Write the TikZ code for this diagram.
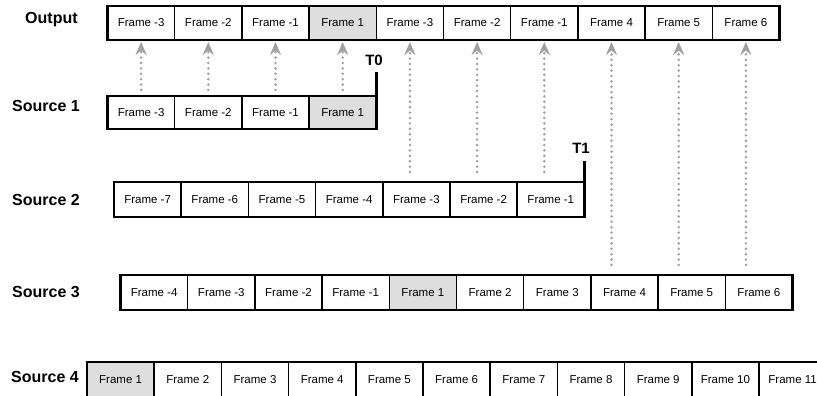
\documentclass[tikz,border=0pt]{standalone}
\usepackage{fontspec}
\setmainfont{Liberation Sans}
\usetikzlibrary{arrows.meta}
\definecolor{arrgray}{RGB}{160,160,160}
\definecolor{cellgray}{RGB}{222,222,222}
\begin{document}
\begin{tikzpicture}[x=1pt,y=-1pt,
  cell/.style={draw=black, line width=1.5pt, minimum width=67.2pt, minimum height=34pt,
    inner sep=0pt, outer sep=0pt, anchor=north west, font=\fontsize{11.5}{13}\selectfont},
  rowlabel/.style={anchor=west, inner sep=0pt, font=\bfseries\fontsize{16}{18}\selectfont},
  rowframe/.style={draw=black, line width=2.6pt},
  feed/.style={draw=arrgray, line width=2.8pt, dash pattern=on 0pt off 5.4pt, line cap=round,
    -{Stealth[length=13pt,width=11pt,inset=4.5pt]}},
  marker/.style={draw=black, line width=2.4pt},
  tlabel/.style={inner sep=0pt, font=\bfseries\fontsize{15}{17}\selectfont}
]
\useasboundingbox (0,0) rectangle (817,396);
\clip (0,0) rectangle (817,396);
\fill[white] (0,0) rectangle (817,396);

% row labels
\node[rowlabel] (lout) at (25,19.5) {Output};
\node[rowlabel] (ls1) at (12,106) {Source 1};
\node[rowlabel] (ls2) at (12,199.5) {Source 2};
\node[rowlabel] (ls3) at (12,292.5) {Source 3};
\node[rowlabel] (ls4) at (11,376.5) {Source 4};

% Output row
\foreach \t/\f [count=\k] in {-3/white,-2/white,-1/white,1/cellgray,-3/white,-2/white,-1/white,4/white,5/white,6/white}
  \node[cell, fill=\f] (o\k) at ({107.5+(\k-1)*67.2},6) {Frame \t};
\draw[rowframe] (o1.north west) rectangle (o10.south east);

% Source 1
\foreach \t/\f [count=\k] in {-3/white,-2/white,-1/white,1/cellgray}
  \node[cell, fill=\f, minimum height=33pt] (sa\k) at ({107.5+(\k-1)*67.2},96) {Frame \t};
\draw[rowframe] (sa1.north west) rectangle (sa4.south east);

% Source 2
\foreach \t [count=\k] in {-7,-6,-5,-4,-3,-2,-1}
  \node[cell, fill=white, minimum height=35pt] (sb\k) at ({114+(\k-1)*67.2},182) {Frame \t};
\draw[rowframe] (sb1.north west) rectangle (sb7.south east);

% Source 3
\foreach \t/\f [count=\k] in {-4/white,-3/white,-2/white,-1/white,1/cellgray,2/white,3/white,4/white,5/white,6/white}
  \node[cell, fill=\f, minimum height=35pt] (sc\k) at ({120.5+(\k-1)*67.2},275) {Frame \t};
\draw[rowframe] (sc1.north west) rectangle (sc10.south east);

% Source 4
\foreach \t/\f [count=\k] in {1/cellgray,2/white,3/white,4/white,5/white,6/white,7/white,8/white,9/white,10/white,11/white}
  \node[cell, fill=\f, minimum height=35pt] (sd\k) at ({87+(\k-1)*67.2},362) {Frame \t};
\draw[rowframe] (sd1.north west) rectangle (sd11.south east);

% feeds Source 1 -> Output
\foreach \k in {1,2,3,4}
  \draw[feed, shorten <=6pt, shorten >=2pt] (sa\k.north -| o\k.south) -- (o\k.south);
% feeds Source 2 -> Output
\foreach \k in {5,6,7}
  \draw[feed, shorten <=10pt, shorten >=2pt] (sb\k.north -| o\k.south) -- (o\k.south);
% feeds Source 3 -> Output
\foreach \k in {8,9,10}
  \draw[feed, shorten <=10pt, shorten >=2pt] (sc\k.north -| o\k.south) -- (o\k.south);

% switch markers
\coordinate (t0) at ([yshift=24pt]sa4.north east);
\draw[marker] (sa4.north east) -- (t0);
\node[tlabel] (t0lab) at (374,60) {T0};
\coordinate (t1) at ([yshift=21pt]sb7.north east);
\draw[marker] (sb7.north east) -- (t1);
\node[tlabel] (t1lab) at (581,148) {T1};
\end{tikzpicture}
\end{document}
